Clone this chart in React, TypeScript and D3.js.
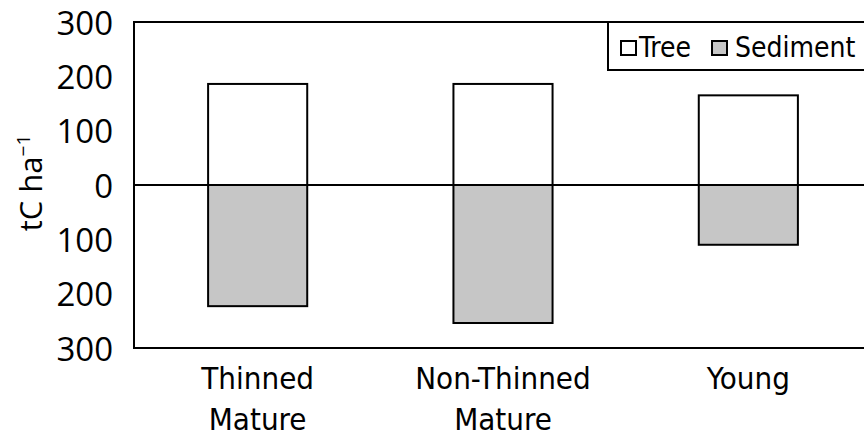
import React from "react";
import * as d3 from "d3";

const categories: string[][] = [["Thinned", "Mature"], ["Non-Thinned", "Mature"], ["Young"]];
const treeValues: number[] = [186, 186, 165];
const sedimentValues: number[] = [223, 254, 110];
const yTicks: number[] = [300, 200, 100, 0, -100, -200, -300];
const legendLabels: string[] = ["Tree", "Sediment"];

const W = 864;
const H = 438;
const plotLeft = 134;
const plotRight = 870;
const plotTop = 22;
const plotBottom = 348;

export default function App() {
  const keys = categories.map((c) => c.join(" "));
  const x = d3
    .scaleBand<string>()
    .domain(keys)
    .range([plotLeft + 1, plotRight + 1])
    .paddingInner(0.596)
    .paddingOuter(0.298);
  const y = d3.scaleLinear().domain([-300, 300]).range([plotBottom, plotTop]);

  const catFont = "'DejaVu Sans Condensed', sans-serif";
  const numFont = "'Open Sans', sans-serif";

  return (
    <svg width={W} height={H} style={{ position: "absolute", left: 0, top: 0, background: "#fff" }}>
      <rect x={0} y={0} width={W} height={H} fill="#fff" />
      {/* bars */}
      {keys.map((k, i) => (
        <g key={k}>
          <rect
            x={x(k)}
            y={y(treeValues[i])}
            width={x.bandwidth()}
            height={y(0) - y(treeValues[i])}
            fill="#ffffff"
            stroke="#000"
            strokeWidth={2}
          />
          <rect
            x={x(k)}
            y={y(0)}
            width={x.bandwidth()}
            height={y(-sedimentValues[i]) - y(0)}
            fill="#c6c6c6"
            stroke="#000"
            strokeWidth={2}
          />
        </g>
      ))}
      {/* zero line */}
      <line x1={plotLeft} x2={plotRight} y1={y(0)} y2={y(0)} stroke="#000" strokeWidth={2} />
      {/* frame */}
      <rect x={plotLeft} y={plotTop} width={plotRight - plotLeft} height={plotBottom - plotTop} fill="none" stroke="#000" strokeWidth={2} />
      {/* y ticks */}
      {yTicks.map((t) => (
        <text
          key={t}
          x={113}
          y={y(t)}
          textAnchor="end"
          dominantBaseline="central"
          fontFamily={numFont}
          fontSize={33}
          fill="#000"
        >
          {Math.abs(t)}
        </text>
      ))}
      {/* y title */}
      <text
        transform={`translate(42, ${y(0) - 2}) rotate(-90)`}
        textAnchor="middle"
        fontFamily={numFont}
        fontSize={31}
        fill="#000"
      >
        tC ha
        <tspan fontSize={19} dy={-12}>
          −1
        </tspan>
      </text>
      {/* category labels */}
      {categories.map((lines, i) => (
        <text
          key={keys[i]}
          x={(x(keys[i]) as number) + x.bandwidth() / 2}
          y={389}
          textAnchor="middle"
          fontFamily={catFont}
          fontSize={31}
          fill="#000"
        >
          {lines.map((l, j) => (
            <tspan key={j} x={(x(keys[i]) as number) + x.bandwidth() / 2} dy={j === 0 ? 0 : 41}>
              {l}
            </tspan>
          ))}
        </text>
      ))}
      {/* legend */}
      <g>
        <rect x={608} y={plotTop} width={plotRight - 608} height={48} fill="#fff" stroke="#000" strokeWidth={2} />
        <rect x={621} y={41} width={15} height={14} fill="#fff" stroke="#000" strokeWidth={2} />
        <text x={639} y={57} fontFamily={catFont} fontSize={28} fill="#000">
          {legendLabels[0]}
        </text>
        <rect x={712} y={41} width={15} height={14} fill="#c6c6c6" stroke="#000" strokeWidth={2} />
        <text x={735} y={57} fontFamily={catFont} fontSize={28} fill="#000">
          {legendLabels[1]}
        </text>
      </g>
    </svg>
  );
}
